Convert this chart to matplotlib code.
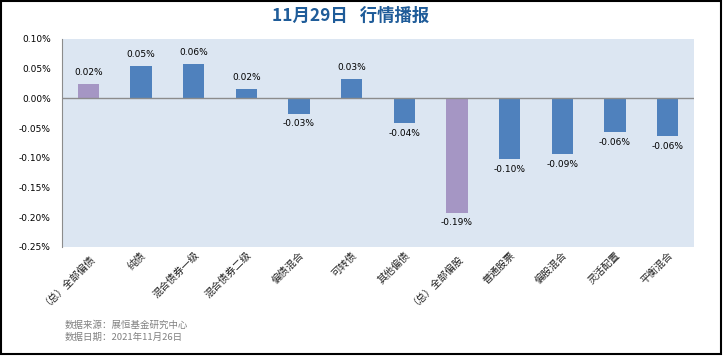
import matplotlib
matplotlib.use('Agg')
import matplotlib.pyplot as plt
from matplotlib.patches import Rectangle

plt.rcParams['font.family'] = ['Noto Sans CJK SC', 'DejaVu Sans']

# data (percent)
categories = ['（总）全部偏债', '纯债', '混合债券一级', '混合债券二级', '偏债混合', '可转债',
              '其他偏债', '（总）全部偏股', '普通股票', '偏股混合', '灵活配置', '平衡混合']
values = [0.024, 0.054, 0.058, 0.016, -0.026, 0.032,
          -0.042, -0.192, -0.102, -0.094, -0.057, -0.064]
labels = ['0.02%', '0.05%', '0.06%', '0.02%', '-0.03%', '0.03%',
          '-0.04%', '-0.19%', '-0.10%', '-0.09%', '-0.06%', '-0.06%']
highlight = ['（总）全部偏债', '（总）全部偏股']
yticks = [0.10, 0.05, 0.0, -0.05, -0.10, -0.15, -0.20, -0.25]

blue = '#4F81BD'
purple = '#A596C4'
colors = [purple if c in highlight else blue for c in categories]

fig = plt.figure(figsize=(7.23, 3.56), dpi=100)
W, H = 723, 356
ax = fig.add_axes([62 / W, 1 - 247 / H, (694 - 62) / W, (247 - 39) / H])
ax.set_facecolor('#DCE6F2')

x = list(range(len(categories)))
ax.bar(x, values, width=0.4, color=colors, zorder=2)
ax.axhline(0, color='#8C8C8C', lw=1.0, zorder=3)

for xi, v, lab in zip(x, values, labels):
    if v >= 0:
        ax.annotate(lab, (xi, v), xytext=(0, 5), textcoords='offset points',
                    ha='center', va='bottom', fontsize=6.5, family='DejaVu Sans')
    else:
        ax.annotate(lab, (xi, v), xytext=(0, -4), textcoords='offset points',
                    ha='center', va='top', fontsize=6.5, family='DejaVu Sans')

ax.set_xlim(-0.5, len(categories) - 0.5)
ax.set_ylim(-0.25, 0.10)
ax.set_yticks(yticks)
ax.set_yticklabels(['%.2f%%' % t for t in yticks], fontsize=6.5, family='DejaVu Sans')
ax.tick_params(axis='y', length=0, pad=8)
ax.set_xticks(x)
ax.set_xticklabels(categories, rotation=45, ha='right', rotation_mode='anchor',
                   fontsize=7.3, color='#222222')
ax.tick_params(axis='x', length=0, pad=2)
for s in ['top', 'right', 'bottom']:
    ax.spines[s].set_visible(False)
ax.spines['left'].set_color('#8C8C8C')

fig.text(351 / W, 1 - 16 / H, '11月29日   行情播报', ha='center', va='center',
         fontsize=12.5, fontweight='bold', color='#1F5C99')
fig.text(65 / W, 1 - 325 / H, '数据来源：展恒基金研究中心', ha='left', va='center',
         fontsize=6.8, color='#808080')
fig.text(65 / W, 1 - 337 / H, '数据日期：2021年11月26日', ha='left', va='center',
         fontsize=6.8, color='#808080')

fig.patches.append(Rectangle((1 / W, 1 - 354 / H), 720 / W, 353 / H, transform=fig.transFigure,
                             fill=False, edgecolor='black', lw=1.5))

fig.savefig('out.png', dpi=100)
